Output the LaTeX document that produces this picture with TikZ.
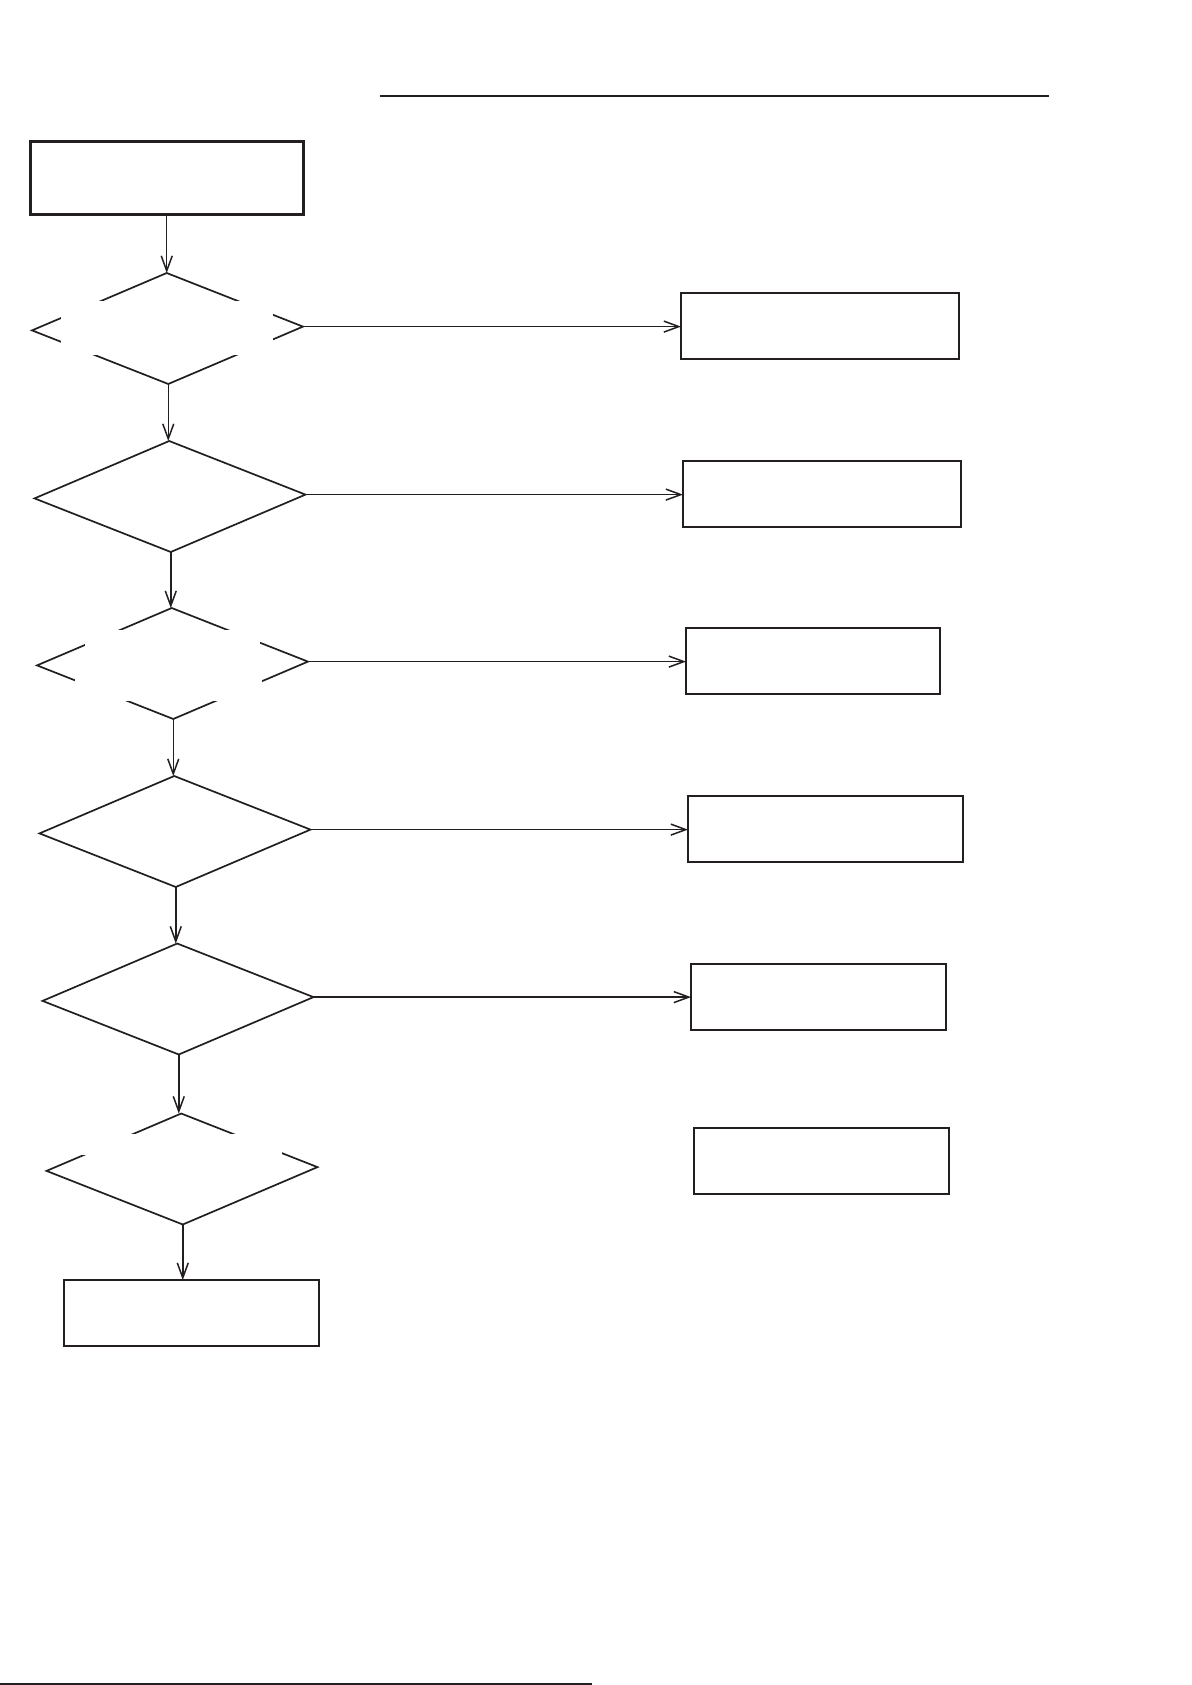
\documentclass[tikz,border=0pt]{standalone}
\usetikzlibrary{shapes.geometric,arrows.meta}
\definecolor{ink}{HTML}{231F20}
\begin{document}
\begin{tikzpicture}[x=1pt,y=-1pt,
  dec/.style={draw=ink, diamond, line width=1.7pt, minimum width=271pt, minimum height=111pt, inner sep=0pt, outer sep=0pt, rotate=0.8},
  box/.style={draw=ink, rectangle, line width=2pt, inner sep=0pt, outer sep=0pt, minimum height=66pt},
  startbox/.style={draw=ink, rectangle, line width=3.3pt, minimum width=273pt, minimum height=73pt, inner sep=0pt, outer sep=0pt},
  mask/.style={fill=white, rectangle, inner sep=0pt, outer sep=0pt},
  rule/.style={draw=ink, line width=2pt},
  conn/.style={draw=ink, line width=1.5pt, -{Straight Barb[length=15pt,width=11pt,line width=1.5pt]}}
]
\useasboundingbox (0,0) rectangle (1191,1685);
\fill[white] (0,0) rectangle (1191,1685);

% rules
\coordinate (TL) at (380,96);
\coordinate (TR) at (1049,96);
\draw[rule] (TL) -- (TR);
\coordinate (BL) at (0,1683.5);
\coordinate (BR) at (592,1683.5);
\draw[rule] (BL) -- (BR);

% start box
\node[startbox] (S) at (167.25,178.1) {};

% decisions
\node[dec] (D1) at (167.5,328.5) {};
\node[dec] (D2) at (170,496.5) {};
\node[dec] (D3) at (172.5,663.5) {};
\node[dec] (D4) at (175,831.5) {};
\node[dec] (D5) at (178,999) {};
\node[dec] (D6) at (182,1169) {};

% white label areas hiding parts of some diamonds
\node[mask, minimum width=212pt, minimum height=54pt] (M1) at (167,328) {};
\node[mask, minimum width=175pt, minimum height=38pt] (M3a) at (172.5,649) {};
\node[mask, minimum width=187pt, minimum height=33pt] (M3b) at (168.5,684.5) {};
\node[mask, minimum width=200pt, minimum height=21pt] (M6) at (182,1144.5) {};

% right column boxes
\node[box, minimum width=278pt] (R1) at (820,326) {};
\node[box, minimum width=278pt] (R2) at (822,494) {};
\node[box, minimum width=254pt] (R3) at (813,661) {};
\node[box, minimum width=275pt] (R4) at (825.5,829) {};
\node[box, minimum width=255pt] (R5) at (818.5,997) {};
\node[box, minimum width=255pt] (R6) at (821.5,1161) {};

% final box
\node[box, minimum width=255pt] (F) at (191.5,1313) {};

% vertical connectors
\draw[conn] (D1.north |- S.south) -- (D1.north);
\draw[conn] (D1.south) -- (D1.south |- D2.north);
\draw[conn] (D2.south) -- (D2.south |- D3.north);
\draw[conn] (D3.south) -- (D3.south |- D4.north);
\draw[conn] (D4.south) -- (D4.south |- D5.north);
\draw[conn] (D5.south) -- (D5.south |- D6.north);
\draw[conn] (D6.south) -- (D6.south |- F.north);

% horizontal connectors
\draw[conn] (D1.east) -- (D1.east -| R1.west);
\draw[conn] (D2.east) -- (D2.east -| R2.west);
\draw[conn] (D3.east) -- (D3.east -| R3.west);
\draw[conn] (D4.east) -- (D4.east -| R4.west);
\draw[conn] (D5.east) -- (D5.east -| R5.west);
\end{tikzpicture}
\end{document}
